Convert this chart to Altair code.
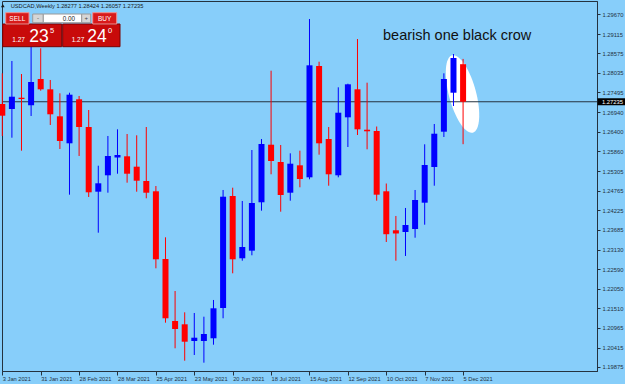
import altair as alt
import pandas as pd
import numpy as np

# ---- USDCAD weekly candles: week index 0 = 3 Jan 2021 ... 48 = 5 Dec 2021 ----
opens = [1.27173, 1.27034, 1.27347, 1.27136, 1.27866, 1.27580, 1.26831, 1.26082, 1.27303, 1.26534,
         1.24739, 1.25194, 1.25688, 1.25721, 1.25433, 1.25036, 1.24750, 1.22871, 1.21151, 1.21059,
         1.20596, 1.20596, 1.20671, 1.21512, 1.24620, 1.22891, 1.23102, 1.24445, 1.26043, 1.25563,
         1.24711, 1.25471, 1.25138, 1.28227, 1.26201, 1.25194, 1.26803, 1.27580, 1.26459, 1.26423,
         1.24750, 1.23668, 1.23621, 1.23704, 1.24434, 1.25424, 1.26404, 1.27486, 1.28277]
highs = [1.28024, 1.28366, 1.28005, 1.28763, 1.28718, 1.27839, 1.27469, 1.27486, 1.27395, 1.27006,
         1.25460, 1.26285, 1.26470, 1.26340, 1.26304, 1.26534, 1.24897, 1.23473, 1.21983, 1.21392,
         1.21373, 1.21270, 1.21734, 1.24786, 1.24850, 1.24481, 1.25896, 1.26201, 1.28097, 1.26035,
         1.25804, 1.25877, 1.29531, 1.28346, 1.26534, 1.27636, 1.27736, 1.28976, 1.27764, 1.26548,
         1.24966, 1.24065, 1.24287, 1.24786, 1.26054, 1.26618, 1.28024, 1.28560, 1.28424]
lows = [1.26285, 1.26237, 1.25877, 1.26840, 1.27542, 1.26590, 1.25924, 1.24656, 1.25730, 1.24592,
        1.23601, 1.24711, 1.25238, 1.24989, 1.24739, 1.24556, 1.22613, 1.21104, 1.20393, 1.20049,
        1.20207, 1.19994, 1.20493, 1.21226, 1.22474, 1.22824, 1.22974, 1.24212, 1.25222, 1.24184,
        1.24489, 1.24861, 1.25083, 1.25766, 1.24905, 1.25138, 1.25979, 1.26312, 1.25915, 1.24489,
        1.23343, 1.22824, 1.22955, 1.23462, 1.23823, 1.24905, 1.26257, 1.27117, 1.26057]
closes = [1.26848, 1.27375, 1.27311, 1.27783, 1.27580, 1.26887, 1.26146, 1.27431, 1.26534, 1.24722,
          1.24972, 1.25730, 1.25757, 1.25238, 1.25044, 1.24711, 1.22863, 1.21226, 1.20929, 1.20576,
          1.20687, 1.20790, 1.21503, 1.24600, 1.22863, 1.23204, 1.24425, 1.26063, 1.25591, 1.24647,
          1.25516, 1.25091, 1.28246, 1.26082, 1.25222, 1.26931, 1.27719, 1.26470, 1.26415, 1.24656,
          1.23559, 1.23579, 1.23815, 1.24509, 1.25480, 1.26348, 1.27866, 1.28449, 1.27235]

tick_weeks = [0, 4, 8, 12, 16, 20, 24, 28, 32, 36, 40, 44, 48]
tick_labels = ["3 Jan 2021", "31 Jan 2021", "28 Feb 2021", "28 Mar 2021", "25 Apr 2021",
               "23 May 2021", "20 Jun 2021", "18 Jul 2021", "15 Aug 2021", "12 Sep 2021",
               "10 Oct 2021", "7 Nov 2021", "5 Dec 2021"]
price_ticks = [1.29670, 1.29115, 1.28575, 1.28035, 1.27495, 1.26940, 1.26400, 1.25860, 1.25305,
               1.24765, 1.24225, 1.23685, 1.23130, 1.22590, 1.22050, 1.21510, 1.20965, 1.20415, 1.19875]

symbol = "USDCAD,Weekly"
bid = 1.27235
note = "bearish one black crow"

df = pd.DataFrame({"i": list(range(len(opens))), "open": opens, "high": highs,
                   "low": lows, "close": closes})
df["dir"] = np.where(df["close"] >= df["open"], "up", "down")

FONT = "Liberation Sans"
DARK = "#24323f"
BG = "#87cefa"

xscale = alt.Scale(domain=[-0.031, 61.95], nice=False, zero=False, padding=0)
yscale = alt.Scale(domain=[1.19763, 1.30031], nice=False, zero=False, padding=0)
label_expr = "[" + ",".join("'%s'" % s for s in tick_labels) + "][round(datum.value/4)]"
xaxis = alt.Axis(values=tick_weeks, labelExpr=label_expr, orient="bottom", grid=False,
                 labelAlign="left", labelBaseline="top", labelPadding=0, tickSize=4,
                 labelFontSize=5.7, labelFont=FONT, labelColor=DARK, tickColor=DARK,
                 domainColor=DARK, labelOverlap=False, labelFlush=False, labelBound=False)
yaxis = alt.Axis(values=price_ticks, format=".5f", orient="right", grid=False,
                 labelAlign="left", labelBaseline="middle", labelPadding=2, tickSize=3,
                 labelFontSize=5.8, labelFont=FONT, labelColor=DARK, tickColor=DARK,
                 domainColor=DARK, labelOverlap=False, labelFlush=False, labelBound=False)


def X(field):
    return alt.X(field, scale=xscale, axis=xaxis, title=None)


def Y(field):
    return alt.Y(field, scale=yscale, axis=yaxis, title=None)


def XD(v):
    return alt.XDatum(v, type="quantitative", scale=xscale, axis=xaxis, title=None)


def YD(v):
    return alt.YDatum(v, type="quantitative", scale=yscale, axis=yaxis, title=None)


color = alt.Color("dir:N", scale=alt.Scale(domain=["up", "down"], range=["#0000ff", "#ff0000"]),
                  legend=None)

one = pd.DataFrame({"d": [0]})

# highlight ellipse (annotation)
ELLIPSE = "M0,-1 A0.34,1 0 1,1 0,1 A0.34,1 0 1,1 0,-1 Z"
ellipse = alt.Chart(one).mark_point(shape=ELLIPSE, size=6400, angle=345, filled=True,
                                    fill="white", opacity=1, strokeWidth=0).encode(
    x=XD(47.94), y=YD(1.27450))

bid_line = alt.Chart(one).mark_rule(color=DARK, strokeWidth=1).encode(
    x=alt.value(0), x2=alt.value(595), y=YD(bid))

wicks = alt.Chart(df).mark_rule(strokeWidth=1).encode(
    x=X("i:Q"), y=Y("low:Q"), y2="high:Q", color=color)
bodies = alt.Chart(df).mark_bar(size=6, orient="vertical").encode(
    x=X("i:Q"), y=Y("open:Q"), y2="close:Q", color=color)

note_text = alt.Chart(one).mark_text(text=note, align="left", baseline="alphabetic",
                                     fontSize=14.5, font=FONT, color="#111111").encode(
    x=XD(39.66), y=YD(1.28949))

# current price tag on the right axis
tag_box = alt.Chart(one).mark_rect(color="#000000", yOffset=-3.5, y2Offset=3.5).encode(
    x=alt.value(595.5), x2=alt.value(623), y=YD(bid), y2=alt.YDatum(bid))
tag_text = alt.Chart(one).mark_text(text="%.5f" % bid, align="left", baseline="middle",
                                    fontSize=5.8, font=FONT, color="white").encode(
    x=alt.value(600), y=YD(bid))

# one-click trading panel (decoration)
panel_boxes = [
    # x, x2, y, y2, fill, stroke
    (0.7, 59.7, 23, 45.7, "#c80a0a", "#7a0000"),
    (60.7, 118, 23, 45.7, "#c80a0a", "#7a0000"),
    (3.7, 27, 11.7, 23, "#d81a1a", "#f29090"),
    (90.7, 114.7, 11.7, 23, "#d81a1a", "#f29090"),
    (30.7, 41.3, 13, 21.7, "#d6d6d6", "#9a9a9a"),
    (41.3, 79.7, 13, 21.7, "#ffffff", "#9a9a9a"),
    (79.7, 88.7, 13, 21.7, "#d6d6d6", "#9a9a9a"),
]
panel_layers = []
for (x1, x2, y1, y2, f, s) in panel_boxes:
    panel_layers.append(alt.Chart(one).mark_rect(fill=f, stroke=s, strokeWidth=1).encode(
        x=alt.value(x1), x2=alt.value(x2), y=alt.value(y1), y2=alt.value(y2)))

panel_texts = [
    # text, x, y, size, color, align, baseline
    ("SELL", 15.3, 17.5, 6.5, "white", "center", "middle"),
    ("BUY", 102.7, 17.5, 6.5, "white", "center", "middle"),
    ("0.00", 73, 17.5, 6.3, "#222222", "right", "middle"),
    ("-", 36, 17.0, 6, "#444444", "center", "middle"),
    ("+", 84.2, 17.0, 6, "#444444", "center", "middle"),
    ("1.27", 10.3, 40.7, 6.5, "white", "left", "alphabetic"),
    ("23", 27.3, 40.7, 17.5, "white", "left", "alphabetic"),
    ("5", 48, 31.7, 7.5, "white", "left", "alphabetic"),
    ("1.27", 69.7, 40.7, 6.5, "white", "left", "alphabetic"),
    ("24", 85.3, 40.7, 17.5, "white", "left", "alphabetic"),
    ("0", 106, 31.7, 7.5, "white", "left", "alphabetic"),
    ("%s  %.5f %.5f %.5f %.5f" % (symbol, opens[-1], highs[-1], lows[-1], closes[-1]),
     8.7, 4.9, 5.7, "#1a1a1a", "left", "middle"),
]
for (t, x, y, fs, c, al, bl) in panel_texts:
    panel_layers.append(alt.Chart(one).mark_text(text=t, fontSize=fs, font=FONT, color=c,
                                                 align=al, baseline=bl).encode(
        x=alt.value(x), y=alt.value(y)))

tri = alt.Chart(one).mark_point(shape="triangle-up", size=14, filled=True, color="#1a1a1a",
                                opacity=1).encode(x=alt.value(0.8), y=alt.value(4.7))

chart = alt.layer(ellipse, bid_line, wicks, bodies, note_text, tag_box, tag_text,
                  *panel_layers, tri).properties(
    width=595, height=370,
    padding={"left": 2, "top": 1, "right": 28, "bottom": 13},
    autosize=alt.AutoSizeParams(type="none"),
).configure(background=BG).configure_view(stroke=DARK, strokeWidth=1, fill=BG)

chart.save("out.html", embed_options={"renderer": "svg", "actions": False})
